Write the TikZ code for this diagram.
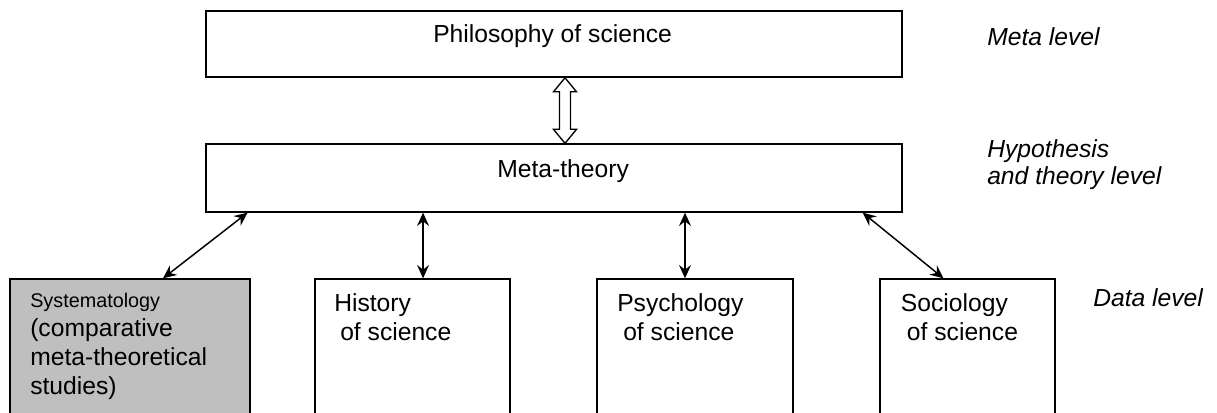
\documentclass[tikz,border=0pt]{standalone}
\usepackage{fontspec}
\setmainfont{Liberation Sans}
\usetikzlibrary{arrows.meta, calc}

\begin{document}
\begin{tikzpicture}[
    x=0.75pt, y=-0.75pt,
    box/.style={
        rectangle, draw=black, line width=1pt, inner sep=0pt
    },
    greybox/.style={box, fill=black!25},
    %% base anchor of a multi-line text sits on its last line
    txt/.style={
        font=\fontsize{18.5}{21.75}\selectfont,
        align=left, inner sep=0pt, anchor=base west
    },
    lvl/.style={txt, font=\fontsize{18.5}{20.5}\selectfont\itshape},
    biarrow/.style={
        {Stealth[length=10pt, width=9pt, inset=3.5pt]}-{Stealth[length=10pt, width=9pt, inset=3.5pt]},
        line width=1.1pt
    },
    hollow/.style={draw=black, line width=1pt, fill=white, line join=miter}
]
\useasboundingbox (0,0) rectangle (1217,413);

%% -- Boxes ------------------------------------------------------------------
\node[box, minimum width=522pt, minimum height=49.7pt] (phil) at (554,44) {};
\node[box, minimum width=522pt, minimum height=51pt]   (meta) at (554,178) {};

\node[greybox, minimum width=180pt, minimum height=102.75pt] (sys) at (130,347.5) {};
\node[box, minimum width=146.25pt, minimum height=102.75pt] (hist)  at (412.5,347.5) {};
\node[box, minimum width=147pt,    minimum height=102.75pt] (psych) at (695,347.5) {};
\node[box, minimum width=131.25pt, minimum height=102.75pt] (soc)   at (967.5,347.5) {};

%% -- Box texts --------------------------------------------------------------
\node[txt] (phil-txt)  at (433,43)  {Philosophy of science};
\node[txt] (meta-txt)  at (497,178) {Meta-theory};
\node[txt] (sys-txt)   at (30,394)
    {{\fontsize{14.85}{17}\selectfont Systematology}\\(comparative\\meta-theoretical\\studies)};
\node[txt] (hist-txt)  at (334,340)   {History\\\hspace*{4.5pt}of science};
\node[txt] (psych-txt) at (617,340)   {Psychology\\\hspace*{4.5pt}of science};
\node[txt] (soc-txt)   at (900.7,340) {Sociology\\\hspace*{4.5pt}of science};

%% -- Level labels -----------------------------------------------------------
\node[lvl] (meta-lvl) at (987,45.7) {Meta level};
\node[lvl] (hyp-lvl)  at (987,185)  {Hypothesis\\and theory level};
\node[lvl] (data-lvl) at (1093,306) {Data level};

%% -- Connectors -------------------------------------------------------------
\coordinate (dtop) at ([xshift=8.25pt]phil.south);
\coordinate (dbot) at ([xshift=8.25pt]meta.north);
\draw[hollow] (dtop) -- ++(11.5,14) -- ++(-6,0) -- ($(dbot)+(5.5,-14)$)
    -- ++(6,0) -- (dbot) -- ++(-11.5,-14) -- ++(6,0) -- ($(dtop)+(-5.5,14)$)
    -- ++(-6,0) -- cycle;

\coordinate (hist-top)  at ([xshift=7.9pt]hist.north);
\coordinate (psych-top) at ([xshift=-7.5pt]psych.north);

\draw[biarrow] ([xshift=24.75pt]sys.north) -- ([xshift=31.7pt]meta.south west);
\draw[biarrow] (hist-top)  -- (hist-top |- meta.south);
\draw[biarrow] (psych-top) -- (psych-top |- meta.south);
\draw[biarrow] ([xshift=-18pt]soc.north) -- ([xshift=-30pt]meta.south east);

\end{tikzpicture}
\end{document}
